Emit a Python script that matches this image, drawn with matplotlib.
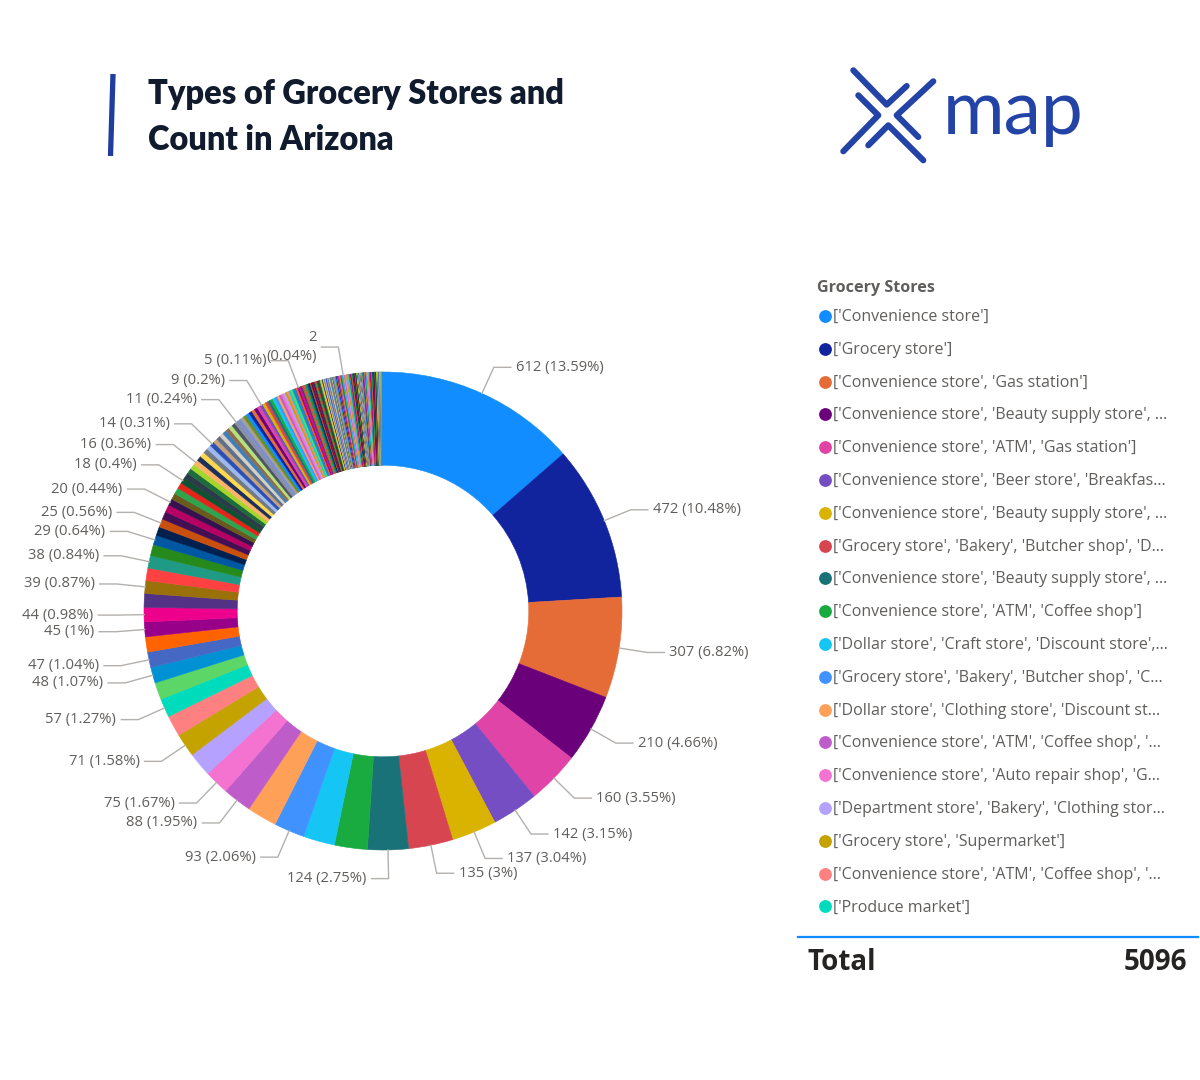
import numpy as np
import matplotlib.pyplot as plt

# store counts per category, sorted the way the donut draws them (clockwise from 12 o'clock)
counts = [612, 472, 307, 210, 160, 142, 137, 135, 124,
          100, 96, 93, 91, 88, 75, 73, 71, 64, 57, 52, 48, 47, 46, 45, 44,
          42, 39, 38, 38, 34, 29, 27, 25, 24, 22, 20, 19, 19, 18, 18,
          17, 17, 16, 16, 15, 15, 15, 14, 14, 13, 13, 12, 12, 12, 12,
          11, 11, 11, 10, 10, 10, 10, 10, 10, 10,
          9, 9, 9, 8, 8, 8, 7, 7, 7, 7, 6, 6, 6, 6, 6, 6,
          5, 5, 5, 5, 5, 4, 4, 4, 4, 4, 4, 4, 4,
          3, 3, 3, 3, 3, 3, 3, 3, 3, 3, 3, 3, 3, 3, 3, 3, 3, 3, 3, 3,
          2, 2, 2, 2, 2, 2, 2, 2, 2, 2, 2, 2, 2, 2, 2, 2, 2, 2,
          2, 2, 2, 2, 2, 2, 2, 2, 2, 2,
          1, 1, 1, 1, 1, 1, 1, 1, 1, 1, 1, 1, 1, 1, 1, 1, 1, 1, 1, 1,
          1, 1, 1, 1, 1, 1, 1, 1, 1, 1, 1, 1, 1, 1, 1, 1, 1, 1, 1, 1,
          1, 1, 1, 1, 1, 1, 1, 1, 1, 1, 1, 1, 1, 1, 1, 1, 1, 1, 1, 1,
          1, 1, 1, 1, 1, 1, 1, 1, 1, 1, 1, 1, 1, 1, 1, 1, 1, 1, 1, 1,
          1, 1, 1, 1, 1, 1, 1, 1, 1, 1, 1, 1, 1, 1, 1, 1, 1, 1, 1]

# slices that get a data label in the visual
labeled = [0, 1, 2, 3, 4, 5, 6, 7, 8, 11, 13, 14, 16, 18, 20, 21, 23, 24,
           26, 28, 30, 32, 35, 39, 43, 48, 56, 65, 83, 131]
wrapped = [131]

legend_names = [
    "['Convenience store']",
    "['Grocery store']",
    "['Convenience store', 'Gas station']",
    "['Convenience store', 'Beauty supply store', ...",
    "['Convenience store', 'ATM', 'Gas station']",
    "['Convenience store', 'Beer store', 'Breakfas...",
    "['Convenience store', 'Beauty supply store', ...",
    "['Grocery store', 'Bakery', 'Butcher shop', 'D...",
    "['Convenience store', 'Beauty supply store', ...",
    "['Convenience store', 'ATM', 'Coffee shop']",
    "['Dollar store', 'Craft store', 'Discount store',...",
    "['Grocery store', 'Bakery', 'Butcher shop', 'C...",
    "['Dollar store', 'Clothing store', 'Discount st...",
    "['Convenience store', 'ATM', 'Coffee shop', '...",
    "['Convenience store', 'Auto repair shop', 'G...",
    "['Department store', 'Bakery', 'Clothing stor...",
    "['Grocery store', 'Supermarket']",
    "['Convenience store', 'ATM', 'Coffee shop', '...",
    "['Produce market']",
]
total_shown = 5096

palette = ['#118DFF', '#12239E', '#E66C37', '#6B007B', '#E044A7', '#744EC2',
           '#D9B300', '#D64550', '#197278', '#1AAB40', '#15C6F4', '#4092FF',
           '#FFA058', '#BE5DC9', '#F472D0', '#B5A1FF', '#C4A200', '#FF8080',
           '#00DBBC', '#5BD667', '#0091D5', '#4668C5', '#FF6300', '#99008A',
           '#EC008C', '#533285', '#99700A', '#FF4141', '#1F9A85', '#25891C',
           '#0057A2', '#002050', '#C94F0F', '#450F54', '#B60064', '#34124F',
           '#6A5A1E', '#2EA44F', '#E3241B', '#0F5132', '#2D3A4A', '#1E6B3C',
           '#A4D62B', '#FFB366', '#1C2F5C', '#FFD84D', '#707A87', '#9DB9EE',
           '#2B4FB5', '#C7A37C', '#5F6E8A', '#D8D0C0', '#3C7FBF', '#8C6D4F',
           '#B8E07A', '#4B5563', '#8A8FA8', '#7A8FD0', '#A89F91', '#6B8E23']

text_grey = '#605E5C'
line_grey = '#B3B0AD'
brand_blue = '#2343A6'
plt.rcParams['font.family'] = ['Open Sans', 'DejaVu Sans']

fig = plt.figure(figsize=(12, 10.8), dpi=100)
fig.patch.set_facecolor('white')

# background axes in pixel units for title, logo, legend
bg = fig.add_axes([0, 0, 1, 1])
bg.set_xlim(0, 1200)
bg.set_ylim(1080, 0)
bg.axis('off')

bg.plot([113, 110.5], [74, 156], color='#1F3C9E', lw=3.8, solid_capstyle='butt')
bg.text(148, 94, 'Types of Grocery Stores and', family='Lato', weight='heavy',
        fontsize=23.5, color='#101B2D', va='center', ha='left')
bg.text(148, 140, 'Count in Arizona', family='Lato', weight='heavy',
        fontsize=23.5, color='#101B2D', va='center', ha='left')

# logo
strokes = [[(853.3, 70.3), (886.7, 104.7), (906.7, 86.0)],
           [(933.3, 81.3), (896.7, 115.3), (918.3, 137.0)],
           [(858.3, 95.3), (878.3, 115.3), (843.3, 151.3)],
           [(868.3, 145.3), (888.3, 125.3), (923.3, 160.3)]]
for s in strokes:
    xs, ys = zip(*s)
    bg.plot(xs, ys, color=brand_blue, lw=4.4, solid_capstyle='round',
            solid_joinstyle='round')
bg.text(943, 134, 'map', family='Lato', fontsize=54, color=brand_blue,
        ha='left', va='baseline')

# legend
bg.text(817, 288, 'Grocery Stores', fontsize=11.6, weight='bold', color=text_grey,
        va='center', ha='left')
for k, name in enumerate(legend_names):
    y = 316 + k * 32.8
    bg.scatter([825], [y], s=85, color=palette[k], linewidths=0)
    bg.text(833, y + 1, name, fontsize=11.5, color=text_grey, va='center', ha='left')

bg.plot([798, 1198], [937, 937], color='#118DFF', lw=1.6)
bg.text(808, 963, 'Total', fontsize=20, weight='bold', color='#252423',
        va='center', ha='left')
bg.text(1187, 963, str(total_shown), fontsize=20, weight='bold', color='#252423',
        va='center', ha='right')

# donut, 1 data unit = 1 pixel
cx, cy, half = 383, 611, 320
ax = fig.add_axes([(cx - half) / 1200, (1080 - cy - half) / 1080,
                   2 * half / 1200, 2 * half / 1080])
R = 239
colors = [palette[i % len(palette)] for i in range(len(counts))]
wedges, _ = ax.pie(counts, radius=R, startangle=90, counterclock=False,
                   colors=colors, wedgeprops=dict(width=R * 0.39, linewidth=0.4))
for w in wedges:
    w.set_edgecolor(w.get_facecolor())
ax.set_xlim(-half, half)
ax.set_ylim(-half, half)
ax.axis('off')

total = sum(counts)
cum = 0
for i, v in enumerate(counts):
    if i in labeled:
        theta = np.deg2rad((cum + v / 2) / total * 360)
        x0, y0 = R * np.sin(theta), R * np.cos(theta)
        x1, y1 = 1.12 * R * np.sin(theta), 1.12 * R * np.cos(theta)
        left = np.rad2deg(theta) > 175
        sgn = -1 if left else 1
        x2 = x1 + sgn * 17
        ax.plot([x0, x1, x2], [y0, y1, y1], color=line_grey, lw=1, clip_on=False)
        pct = f'{round(v / total * 100, 2):g}'
        txt = f'{v}\n({pct}%)' if i in wrapped else f'{v} ({pct}%)'
        ax.text(x2 + sgn * 5, y1, txt, fontsize=10.6, color=text_grey,
                ha='right' if left else 'left', va='center',
                multialignment='right', linespacing=1.3, clip_on=False)
    cum += v

fig.savefig('out.png', dpi=100, facecolor='white')
